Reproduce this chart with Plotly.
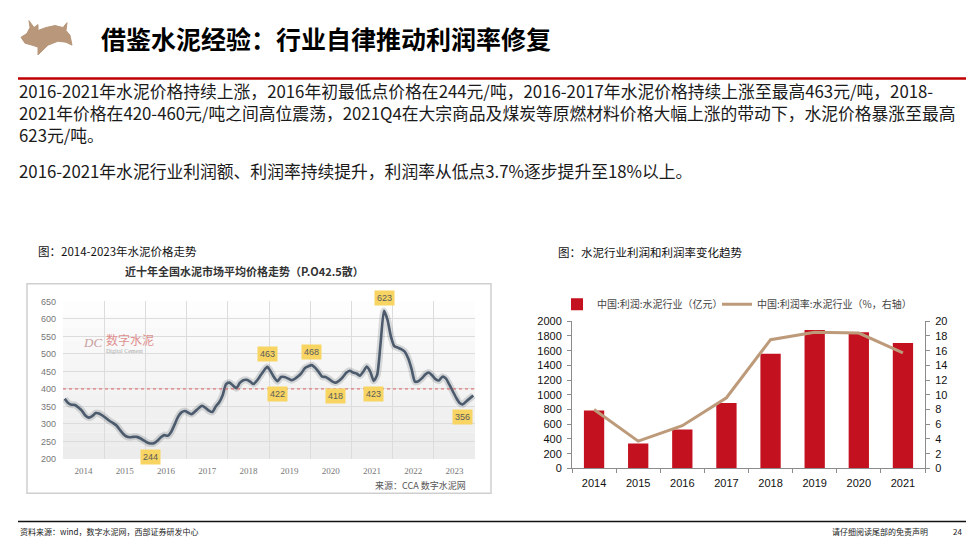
import plotly.graph_objects as go

W, H = 979, 551

# ---------------- data ----------------
PRICE_YEARS = list(range(2014, 2024))
PRICE = [
    372, 360, 355, 354, 347, 338, 324, 318, 322, 331, 330, 324,   # 2014
    317, 309, 303, 296, 284, 272, 264, 262, 263, 263, 259, 253,   # 2015
    247, 244, 245, 252, 262, 268, 266, 277, 298, 320, 333, 337,   # 2016
    332, 328, 336, 345, 352, 346, 338, 334, 350, 362, 382, 414,   # 2017
    418, 410, 402, 417, 425, 426, 421, 414, 424, 438, 452, 463,   # 2018
    450, 433, 422, 434, 434, 430, 425, 429, 436, 446, 460, 465,   # 2019
    468, 460, 448, 435, 434, 428, 421, 418, 424, 434, 446, 452,   # 2020
    447, 444, 438, 450, 464, 449, 423, 440, 530, 623, 598, 550,   # 2021
    522, 518, 514, 507, 488, 458, 421, 422, 430, 441, 447, 439,   # 2022
    428, 424, 435, 430, 413, 394, 375, 360, 356, 365, 373, 381,   # 2023
]
PRICE_T = [2014 + (i + 0.5) / 12 for i in range(len(PRICE))]
LABEL_IDX = [25, 59, 62, 72, 79, 90, 93, 116]
LABEL_SIDE = ["below", "above", "below", "above", "below", "below", "above", "below"]
REF_LEVEL = 400

PROFIT_YEARS = ["2014", "2015", "2016", "2017", "2018", "2019", "2020", "2021"]
PROFIT = [788, 340, 528, 888, 1560, 1882, 1850, 1706]          # 亿元
MARGIN = [8.0, 3.7, 5.8, 9.6, 17.5, 18.5, 18.4, 15.7]          # %

# ---------------- helpers ----------------
def px(x):
    return x / W

def py(y):
    return 1 - y / H

FONT_CJK = "Noto Sans CJK SC"
fig = go.Figure()

# ---------------- left chart: cement price ----------------
fig.add_trace(go.Scatter(
    x=PRICE_T, y=PRICE, mode="lines", xaxis="x", yaxis="y",
    line=dict(color="rgba(60,70,85,0.18)", width=7, shape="spline", smoothing=0.6),
    hoverinfo="skip", showlegend=False))
fig.add_trace(go.Scatter(
    x=PRICE_T, y=PRICE, mode="lines", xaxis="x", yaxis="y",
    line=dict(color="#4b5a6c", width=2.6, shape="spline", smoothing=0.6),
    showlegend=False, name="价格"))

for i, side in zip(LABEL_IDX, LABEL_SIDE):
    fig.add_annotation(
        x=PRICE_T[i], y=PRICE[i], xref="x", yref="y", text=str(PRICE[i]),
        showarrow=False, yshift=(13 if side == "above" else -13),
        bgcolor="#f8d562", borderpad=2,
        font=dict(family="Liberation Sans", size=9, color="#5a5a5a"))

# ---------------- right chart: profit & margin ----------------
fig.add_trace(go.Bar(
    x=PROFIT_YEARS, y=PROFIT, xaxis="x2", yaxis="y2", width=0.46,
    marker=dict(color="#c3111f", line=dict(width=0)),
    name="中国:利润:水泥行业（亿元）", legend="legend"))
fig.add_trace(go.Scatter(
    x=PROFIT_YEARS, y=MARGIN, xaxis="x2", yaxis="y3", mode="lines",
    line=dict(color="#bd9b7a", width=3),
    name="中国:利润率:水泥行业（%，右轴）", legend="legend2"))

# ---------------- layout ----------------
grid = "#dcdcdc"
axis_font = dict(family="Liberation Sans", size=11, color="#111")
legend_style = dict(orientation="h", xanchor="left", yanchor="middle", y=py(305),
                    font=dict(family=FONT_CJK, size=10, color="#444"),
                    itemwidth=30, bgcolor="rgba(0,0,0,0)")
fig.update_layout(
    width=W, height=H, margin=dict(l=0, r=0, t=0, b=0),
    paper_bgcolor="white", plot_bgcolor="white",
    showlegend=True,
    legend=dict(x=px(557), **legend_style),
    legend2=dict(x=px(717), **legend_style),
    xaxis=dict(domain=[px(63), px(475)], range=[2014, 2024], anchor="y",
               tickmode="array", tickvals=[y + 0.5 for y in PRICE_YEARS],
               ticktext=[str(y) for y in PRICE_YEARS], showgrid=False, zeroline=False,
               ticks="", ticklabelstandoff=5,
               tickfont=dict(family="Liberation Serif", size=9, color="#777"),
               minor=dict(tickmode="array", tickvals=list(range(2014, 2025)),
                          showgrid=True, gridcolor=grid, gridwidth=1, ticks="")),
    yaxis=dict(domain=[py(463), py(302)], range=[200, 650], dtick=50, anchor="x",
               showgrid=True, gridcolor=grid, gridwidth=1, zeroline=False,
               ticks="", ticklabelstandoff=6,
               tickfont=dict(family="Liberation Sans", size=9, color="#777")),
    xaxis2=dict(domain=[px(572), px(925)], anchor="y2", type="category",
                showline=True, linecolor="#8c8c8c", linewidth=1,
                ticks="outside", tickson="boundaries", ticklen=4, tickcolor="#8c8c8c",
                showgrid=False, zeroline=False, ticklabelstandoff=4, tickfont=axis_font),
    yaxis2=dict(domain=[py(472.7), py(322.3)], anchor="x2", range=[0, 2000], dtick=200,
                showline=True, linecolor="#8c8c8c", linewidth=1, ticks="outside",
                ticklen=4, tickcolor="#8c8c8c", showgrid=False, zeroline=False,
                ticklabelstandoff=3, tickfont=axis_font),
    yaxis3=dict(overlaying="y2", side="right", anchor="x2", range=[0, 20], dtick=2,
                showline=True, linecolor="#8c8c8c", linewidth=1, ticks="outside",
                ticklen=4, tickcolor="#8c8c8c", showgrid=False, zeroline=False,
                ticklabelstandoff=3, tickfont=axis_font),
)

# left plot background: soft vertical gradient (light grey bottom -> white top)
N_BANDS = 12
for k in range(N_BANDS):
    g = int(236 + 17 * k / (N_BANDS - 1))
    fig.add_shape(type="rect", xref="x domain", yref="y domain",
                  x0=0, x1=1, y0=k / N_BANDS, y1=(k + 1) / N_BANDS, layer="below",
                  fillcolor=f"rgb({g},{g},{g})", line=dict(width=0))

# reference line at 400
fig.add_shape(type="line", xref="x domain", yref="y", x0=0, x1=1, y0=REF_LEVEL, y1=REF_LEVEL,
              line=dict(color="#e06060", width=1, dash="dot"))
# bull logo
bull = [(21, 32), (27, 28), (30, 22), (29, 15), (34, 22), (38, 19), (38, 25), (46, 22),
        (55, 20), (63, 22), (67, 17), (66, 25), (70, 30), (72, 40), (66, 37), (58, 36),
        (48, 40), (38, 50), (38, 42), (32, 40), (25, 38)]
path = "M " + " L ".join(f"{px(x):.5f} {py(y):.5f}" for x, y in bull) + " Z"
fig.add_shape(type="path", xref="paper", yref="paper", path=path,
              fillcolor="#b8977a", line=dict(color="#b8977a", width=1))
# red rule under title
fig.add_shape(type="line", xref="paper", yref="paper", x0=px(18), x1=px(966),
              y0=py(74), y1=py(74), line=dict(color="#c00000", width=2.5))
# footer rule
fig.add_shape(type="line", xref="paper", yref="paper", x0=px(18), x1=px(966),
              y0=py(527), y1=py(527), line=dict(color="#111", width=1.5))
# left chart frame
fig.add_shape(type="rect", xref="paper", yref="paper", x0=px(27), x1=px(491),
              y0=py(498), y1=py(284), line=dict(color="#cfcfcf", width=1.5), layer="below")

def txt(x, y, s, size, color="#1a1a1a", anchor="left", family=FONT_CJK, bold=False):
    if bold:
        s = f"<b>{s}</b>"
    fig.add_annotation(x=px(x), y=py(y), xref="paper", yref="paper", text=s,
                       showarrow=False, xanchor=anchor, yanchor="middle", align="left",
                       font=dict(family=family, size=size, color=color))

txt(99, 33, "借鉴水泥经验：行业自律推动利润率修复", 25, "#000", bold=True)
para1 = ("2016-2021年水泥价格持续上涨，2016年初最低点价格在244元/吨，2016-2017年水泥价格持续上涨至最高463元/吨，2018-<br>"
         "2021年价格在420-460元/吨之间高位震荡，2021Q4在大宗商品及煤炭等原燃材料价格大幅上涨的带动下，水泥价格暴涨至最高<br>"
         "623元/吨。")
txt(17, 109, para1, 16.8, "#1a1a1a")
txt(17, 169, "2016-2021年水泥行业利润额、利润率持续提升，利润率从低点3.7%逐步提升至18%以上。", 16.8, "#1a1a1a")

txt(36, 250, "图：2014-2023年水泥价格走势", 11.5, "#111")
txt(556, 251, "图：水泥行业利润和利润率变化趋势", 11.5, "#111")
txt(244, 271, "近十年全国水泥市场平均价格走势（P.O42.5散）", 11, "#333", anchor="center", bold=True)
txt(468, 490, "来源：CCA 数字水泥网", 9, "#555", anchor="right")
# watermark
txt(81, 344, "<i>DC</i>", 13, "#c9a0a0", family="Liberation Serif")
txt(104, 341, "数字水泥", 12, "#e09090")
txt(104, 353, "Digital Cement", 6, "#aaa", family="Liberation Serif")

txt(18, 537, "资料来源：wind，数字水泥网，西部证券研发中心", 8, "#222")
txt(930, 537, "请仔细阅读尾部的免责声明", 8, "#222", anchor="right")
txt(951, 537, "24", 8, "#222")

fig.write_html("out.html", config={"displayModeBar": False},
               post_script="document.body.style.margin='0';")
